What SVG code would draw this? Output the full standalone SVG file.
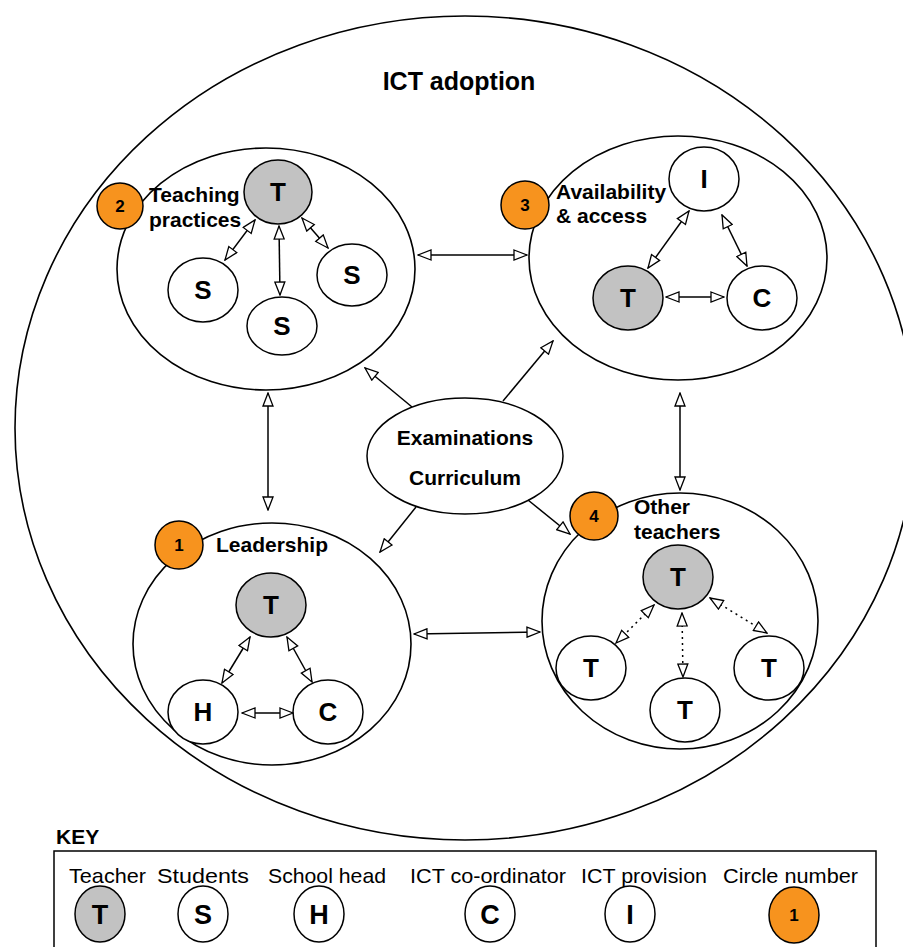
<svg xmlns="http://www.w3.org/2000/svg" width="903" height="947" viewBox="0 0 903 947">
  <style>
    .ring { fill: none; stroke: #000; stroke-width: 1.6; }
    .node { fill: #fff; stroke: #000; stroke-width: 1.5; }
    .teacher { fill: #c2c2c2; stroke: #000; stroke-width: 1.5; }
    .badge { fill: #f7931e; stroke: #000; stroke-width: 1.5; }
    .letter { font-family: "Liberation Sans", Arial, sans-serif; font-weight: bold; font-size: 26px; text-anchor: middle; fill: #000; }
    .klet { font-family: "Liberation Sans", Arial, sans-serif; font-weight: bold; font-size: 27px; text-anchor: middle; fill: #000; }
    .num { font-family: "Liberation Sans", Arial, sans-serif; font-weight: bold; font-size: 17px; text-anchor: middle; fill: #000; }
    .label { font-family: "Liberation Sans", Arial, sans-serif; font-weight: bold; font-size: 21px; fill: #000; }
    .title { font-family: "Liberation Sans", Arial, sans-serif; font-weight: bold; font-size: 25px; text-anchor: middle; fill: #000; }
    .keyhead { font-family: "Liberation Sans", Arial, sans-serif; font-weight: bold; font-size: 21px; fill: #000; }
    .keytxt { font-family: "Liberation Sans", Arial, sans-serif; font-size: 21px; fill: #000; }
    .link { fill: none; stroke: #000; stroke-width: 1.5; marker-start: url(#head); marker-end: url(#head); }
    .dot { stroke-dasharray: 2 4; }
    .one { fill: none; stroke: #000; stroke-width: 1.5; marker-end: url(#head); }
  </style>
  <defs>
    <marker id="head" markerUnits="userSpaceOnUse" viewBox="0 0 15 12" markerWidth="15" markerHeight="12" refX="14" refY="6" orient="auto-start-reverse">
      <path d="M1,1 L14,6 L1,11 Z" fill="#fff" stroke="#000" stroke-width="1.3" stroke-linejoin="miter"/>
    </marker>
  </defs>

  <rect width="903" height="947" fill="#fff"/>

  <!-- outer boundary -->
  <g id="ict-adoption">
    <ellipse class="ring" cx="465" cy="428" rx="450" ry="412"/>
    <text class="title" x="459" y="90">ICT adoption</text>
  </g>

  <!-- circle 2 -->
  <g id="teaching-practices">
    <ellipse class="ring" cx="266" cy="269" rx="149" ry="121"/>
    <circle class="badge" cx="120" cy="206" r="23"/>
    <text class="num" x="120" y="212">2</text>
    <text class="label" x="149" y="202">Teaching</text>
    <text class="label" x="149" y="227">practices</text>
    <ellipse class="teacher" cx="278" cy="192" rx="34" ry="32"/>
    <text class="letter" x="278" y="201">T</text>
    <ellipse class="node" cx="203" cy="290" rx="35" ry="32"/>
    <text class="letter" x="203" y="299">S</text>
    <ellipse class="node" cx="282" cy="326" rx="35" ry="29"/>
    <text class="letter" x="282" y="335">S</text>
    <ellipse class="node" cx="352" cy="275" rx="35" ry="31"/>
    <text class="letter" x="352" y="284">S</text>
  </g>

  <!-- circle 3 -->
  <g id="availability-access">
    <ellipse class="ring" cx="678" cy="258" rx="149" ry="122"/>
    <circle class="badge" cx="525" cy="205" r="24"/>
    <text class="num" x="525" y="211">3</text>
    <text class="label" x="556" y="199">Availability</text>
    <text class="label" x="556" y="223">&amp; access</text>
    <ellipse class="node" cx="704" cy="179" rx="35" ry="32"/>
    <text class="letter" x="704" y="188">I</text>
    <ellipse class="teacher" cx="628" cy="298" rx="35" ry="32"/>
    <text class="letter" x="628" y="307">T</text>
    <ellipse class="node" cx="762" cy="298" rx="35" ry="32"/>
    <text class="letter" x="762" y="307">C</text>
  </g>

  <!-- circle 1 -->
  <g id="leadership">
    <ellipse class="ring" cx="272" cy="644" rx="139" ry="121"/>
    <circle class="badge" cx="179" cy="545" r="24"/>
    <text class="num" x="179" y="551">1</text>
    <text class="label" x="216" y="552">Leadership</text>
    <ellipse class="teacher" cx="271" cy="605" rx="35" ry="32"/>
    <text class="letter" x="271" y="614">T</text>
    <ellipse class="node" cx="203" cy="712" rx="35" ry="32"/>
    <text class="letter" x="203" y="721">H</text>
    <ellipse class="node" cx="328" cy="712" rx="35" ry="32"/>
    <text class="letter" x="328" y="721">C</text>
  </g>

  <!-- circle 4 -->
  <g id="other-teachers">
    <ellipse class="ring" cx="680" cy="621" rx="138" ry="128"/>
    <circle class="badge" cx="594" cy="516" r="24"/>
    <text class="num" x="594" y="522">4</text>
    <text class="label" x="634" y="514">Other</text>
    <text class="label" x="634" y="539">teachers</text>
    <ellipse class="teacher" cx="678" cy="577" rx="35" ry="32"/>
    <text class="letter" x="678" y="586">T</text>
    <ellipse class="node" cx="591" cy="668" rx="35" ry="32"/>
    <text class="letter" x="591" y="677">T</text>
    <ellipse class="node" cx="685" cy="710" rx="35" ry="32"/>
    <text class="letter" x="685" y="719">T</text>
    <ellipse class="node" cx="769" cy="668" rx="35" ry="32"/>
    <text class="letter" x="769" y="677">T</text>
  </g>

  <!-- central influence -->
  <g id="examinations-curriculum">
    <ellipse class="node" cx="465" cy="456" rx="98" ry="58"/>
    <text class="label" x="465" y="445" text-anchor="middle">Examinations</text>
    <text class="label" x="465" y="485" text-anchor="middle">Curriculum</text>
  </g>

  <!-- connectors -->
  <g id="connectors">
    <!-- inside circle 2 -->
    <line class="link" x1="255" y1="220" x2="225" y2="260"/>
    <line class="link" x1="279" y1="226" x2="280" y2="295"/>
    <line class="link" x1="302" y1="218" x2="328" y2="248"/>
    <!-- inside circle 3 -->
    <line class="link" x1="689" y1="211" x2="648" y2="268"/>
    <line class="link" x1="722" y1="215" x2="747" y2="266"/>
    <line class="link" x1="666" y1="297" x2="724" y2="297"/>
    <!-- inside circle 1 -->
    <line class="link" x1="250" y1="637" x2="222" y2="683"/>
    <line class="link" x1="287" y1="637" x2="312" y2="682"/>
    <line class="link" x1="242" y1="713" x2="293" y2="713"/>
    <!-- inside circle 4 -->
    <line class="link dot" x1="654" y1="605" x2="616" y2="643"/>
    <line class="link dot" x1="682" y1="613" x2="683" y2="677"/>
    <line class="link dot" x1="710" y1="598" x2="767" y2="633"/>
    <!-- between circles -->
    <line class="link" x1="418" y1="255" x2="527" y2="255"/>
    <line class="link" x1="268" y1="393" x2="268" y2="510"/>
    <line class="link" x1="680" y1="393" x2="680" y2="490"/>
    <line class="link" x1="414" y1="634" x2="540" y2="632"/>
    <!-- from the central ellipse -->
    <line class="one" x1="412" y1="407" x2="365" y2="368"/>
    <line class="one" x1="503" y1="401" x2="553" y2="341"/>
    <line class="one" x1="416" y1="507" x2="380" y2="552"/>
    <line class="one" x1="528" y1="500" x2="570" y2="534"/>
  </g>

  <!-- key -->
  <g id="key">
    <text class="keyhead" x="56" y="844">KEY</text>
    <rect x="54" y="851" width="822" height="110" fill="none" stroke="#000" stroke-width="1.5"/>
    <text class="keytxt" x="69" y="883" textLength="77" lengthAdjust="spacingAndGlyphs">Teacher</text>
    <text class="keytxt" x="157" y="883" textLength="92" lengthAdjust="spacingAndGlyphs">Students</text>
    <text class="keytxt" x="268" y="883" textLength="118" lengthAdjust="spacingAndGlyphs">School head</text>
    <text class="keytxt" x="410" y="883" textLength="156" lengthAdjust="spacingAndGlyphs">ICT co-ordinator</text>
    <text class="keytxt" x="581" y="883" textLength="126" lengthAdjust="spacingAndGlyphs">ICT provision</text>
    <text class="keytxt" x="723" y="883" textLength="135" lengthAdjust="spacingAndGlyphs">Circle number</text>
    <ellipse class="teacher" cx="100" cy="914" rx="25" ry="28"/>
    <text class="klet" x="100" y="924">T</text>
    <ellipse class="node" cx="203" cy="914" rx="25" ry="28"/>
    <text class="klet" x="203" y="924">S</text>
    <ellipse class="node" cx="319" cy="914" rx="25" ry="28"/>
    <text class="klet" x="319" y="924">H</text>
    <ellipse class="node" cx="490" cy="914" rx="25" ry="28"/>
    <text class="klet" x="490" y="924">C</text>
    <ellipse class="node" cx="630" cy="914" rx="25" ry="28"/>
    <text class="klet" x="630" y="924">I</text>
    <ellipse class="badge" cx="794" cy="915" rx="25" ry="28"/>
    <text class="num" x="794" y="921">1</text>
  </g>
</svg>
